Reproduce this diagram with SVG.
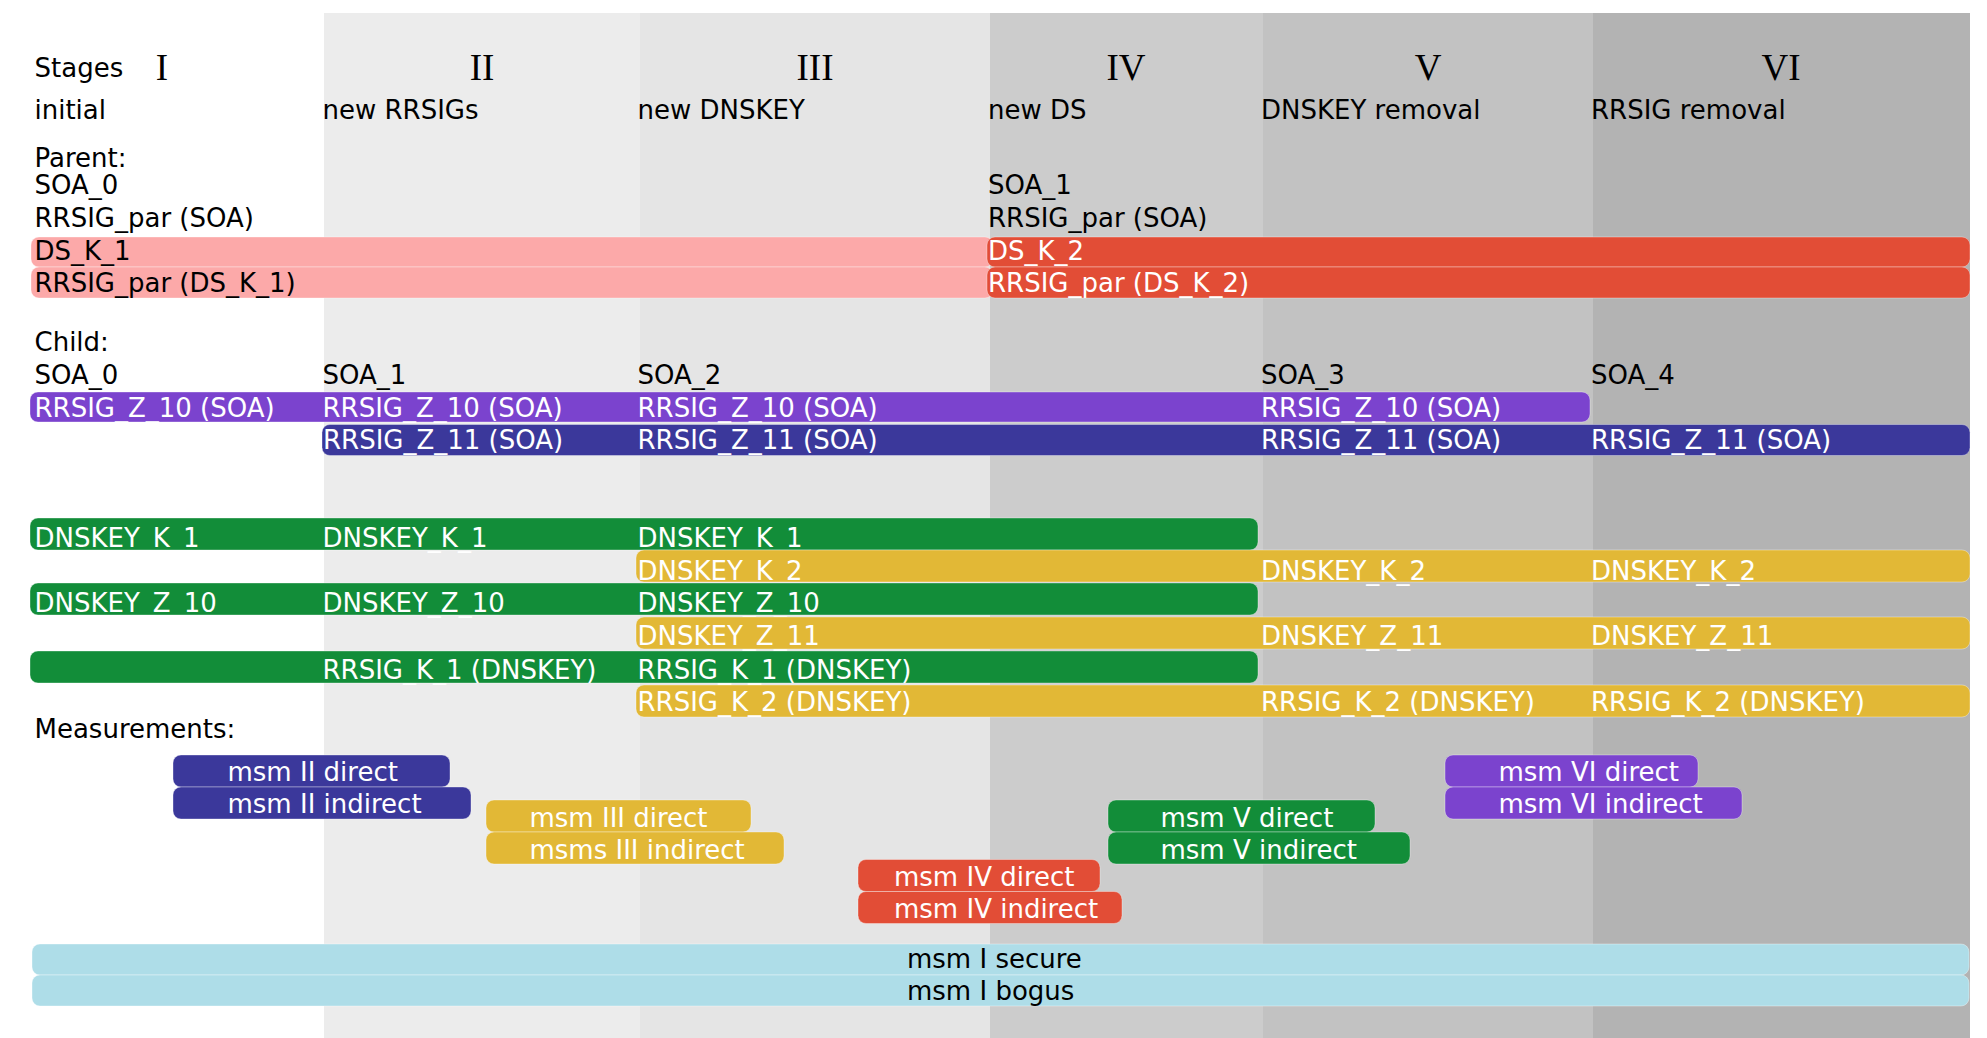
<svg xmlns="http://www.w3.org/2000/svg" width="1987" height="1038" viewBox="0 0 1987 1038">
<style>
  text { font-family: "DejaVu Sans", "Liberation Sans", sans-serif; font-size: 26px; fill: #000; }
  .num { font-family: "Liberation Serif", "DejaVu Serif", serif; font-size: 37px; text-anchor: middle; }
  .w { fill: #ffffff; }
  .bar { stroke: rgba(255,255,255,0.35); stroke-width: 1; }
  .pink { fill: #fca9a9; }
  .red { fill: #e24d36; }
  .purple { fill: #7b43ce; }
  .blue { fill: #3b389b; }
  .green { fill: #128d39; }
  .gold { fill: #e2b836; }
  .lblue { fill: #aedde8; }
</style>
<rect x="0" y="0" width="1987" height="1038" fill="#ffffff"/>
<g id="stage-columns">
  <rect x="324" y="13" width="316" height="1025" fill="#ececec"/>
  <rect x="640" y="13" width="350" height="1025" fill="#e5e5e5"/>
  <rect x="990" y="13" width="273" height="1025" fill="#cccccc"/>
  <rect x="1263" y="13" width="330" height="1025" fill="#c2c2c2"/>
  <rect x="1593" y="13" width="377" height="1025" fill="#b3b3b3"/>
</g>
<g id="headers">
  <text x="34.5" y="77">Stages</text>
  <text class="num" x="162" y="80">I</text>
  <text class="num" x="482" y="80">II</text>
  <text class="num" x="815" y="80">III</text>
  <text class="num" x="1126" y="80">IV</text>
  <text class="num" x="1428" y="80">V</text>
  <text class="num" x="1781" y="80">VI</text>
  <text x="34.5" y="119">initial</text>
  <text x="322.5" y="119">new RRSIGs</text>
  <text x="637.5" y="119">new DNSKEY</text>
  <text x="988" y="119">new DS</text>
  <text x="1261" y="119">DNSKEY removal</text>
  <text x="1591" y="119">RRSIG removal</text>
</g>
<g id="parent">
  <text x="34.5" y="166.5">Parent:</text>
  <text x="34.5" y="193.5">SOA_0</text>
  <text x="34.5" y="226.5">RRSIG_par (SOA)</text>
  <text x="988" y="193.5">SOA_1</text>
  <text x="988" y="226.5">RRSIG_par (SOA)</text>
</g>
<g id="ds-k-1">
  <rect class="bar pink" x="31" y="237" width="962" height="30" rx="8"/>
  <text x="34.5" y="259.5">DS_K_1</text>
</g>
<g id="rrsig-par-ds-k-1">
  <rect class="bar pink" x="31" y="267" width="962" height="31" rx="8"/>
  <text x="34.5" y="292">RRSIG_par (DS_K_1)</text>
</g>
<g id="ds-k-2">
  <rect class="bar red" x="987" y="237" width="983" height="30" rx="8"/>
  <text class="w" x="988" y="259.5">DS_K_2</text>
</g>
<g id="rrsig-par-ds-k-2">
  <rect class="bar red" x="987" y="267" width="983" height="31" rx="8"/>
  <text class="w" x="988" y="292">RRSIG_par (DS_K_2)</text>
</g>
<g id="child">
  <text x="34.5" y="351">Child:</text>
  <text x="34.5" y="383.5">SOA_0</text>
  <text x="322.5" y="383.5">SOA_1</text>
  <text x="637.5" y="383.5">SOA_2</text>
  <text x="1261" y="383.5">SOA_3</text>
  <text x="1591" y="383.5">SOA_4</text>
</g>
<g id="rrsig-z-10-soa">
  <rect class="bar purple" x="30" y="392" width="1560" height="30" rx="8"/>
  <text class="w" x="34.5" y="416.5">RRSIG_Z_10 (SOA)</text>
  <text class="w" x="322.5" y="416.5">RRSIG_Z_10 (SOA)</text>
  <text class="w" x="637.5" y="416.5">RRSIG_Z_10 (SOA)</text>
  <text class="w" x="1261" y="416.5">RRSIG_Z_10 (SOA)</text>
</g>
<g id="rrsig-z-11-soa">
  <rect class="bar blue" x="322" y="424.5" width="1648" height="31" rx="8"/>
  <text class="w" x="323" y="449">RRSIG_Z_11 (SOA)</text>
  <text class="w" x="637.5" y="449">RRSIG_Z_11 (SOA)</text>
  <text class="w" x="1261" y="449">RRSIG_Z_11 (SOA)</text>
  <text class="w" x="1591" y="449">RRSIG_Z_11 (SOA)</text>
</g>
<g id="dnskey-k-1">
  <rect class="bar green" x="30" y="518" width="1228" height="32" rx="8"/>
  <text class="w" x="34.5" y="547">DNSKEY_K_1</text>
  <text class="w" x="322.5" y="547">DNSKEY_K_1</text>
  <text class="w" x="637.5" y="547">DNSKEY_K_1</text>
</g>
<g id="dnskey-k-2">
  <rect class="bar gold" x="636" y="550" width="1334" height="32" rx="8"/>
  <text class="w" x="637.5" y="579.5">DNSKEY_K_2</text>
  <text class="w" x="1261" y="579.5">DNSKEY_K_2</text>
  <text class="w" x="1591" y="579.5">DNSKEY_K_2</text>
</g>
<g id="dnskey-z-10">
  <rect class="bar green" x="30" y="583" width="1228" height="32" rx="8"/>
  <text class="w" x="34.5" y="611.5">DNSKEY_Z_10</text>
  <text class="w" x="322.5" y="611.5">DNSKEY_Z_10</text>
  <text class="w" x="637.5" y="611.5">DNSKEY_Z_10</text>
</g>
<g id="dnskey-z-11">
  <rect class="bar gold" x="636" y="617" width="1334" height="32" rx="8"/>
  <text class="w" x="637.5" y="645">DNSKEY_Z_11</text>
  <text class="w" x="1261" y="645">DNSKEY_Z_11</text>
  <text class="w" x="1591" y="645">DNSKEY_Z_11</text>
</g>
<g id="rrsig-k-1-dnskey">
  <rect class="bar green" x="30" y="651" width="1228" height="32" rx="8"/>
  <text class="w" x="322.5" y="678.5">RRSIG_K_1 (DNSKEY)</text>
  <text class="w" x="637.5" y="678.5">RRSIG_K_1 (DNSKEY)</text>
</g>
<g id="rrsig-k-2-dnskey">
  <rect class="bar gold" x="636" y="685" width="1334" height="32" rx="8"/>
  <text class="w" x="637.5" y="711">RRSIG_K_2 (DNSKEY)</text>
  <text class="w" x="1261" y="711">RRSIG_K_2 (DNSKEY)</text>
  <text class="w" x="1591" y="711">RRSIG_K_2 (DNSKEY)</text>
</g>
<text x="34.5" y="738">Measurements:</text>
<g id="msm-ii-direct">
  <rect class="bar blue" x="173" y="755" width="277" height="32" rx="8"/>
  <text class="w" x="227.5" y="780.7">msm II direct</text>
</g>
<g id="msm-ii-indirect">
  <rect class="bar blue" x="173" y="787" width="298" height="32" rx="8"/>
  <text class="w" x="227.5" y="812.7">msm II indirect</text>
</g>
<g id="msm-iii-direct">
  <rect class="bar gold" x="486" y="800" width="265" height="32" rx="8"/>
  <text class="w" x="529.5" y="826.5">msm III direct</text>
</g>
<g id="msms-iii-indirect">
  <rect class="bar gold" x="486" y="832" width="298" height="32" rx="8"/>
  <text class="w" x="529.5" y="859">msms III indirect</text>
</g>
<g id="msm-iv-direct">
  <rect class="bar red" x="858" y="859.5" width="242" height="32" rx="8"/>
  <text class="w" x="894" y="885.7">msm IV direct</text>
</g>
<g id="msm-iv-indirect">
  <rect class="bar red" x="858" y="891.5" width="264" height="32" rx="8"/>
  <text class="w" x="894" y="918.3">msm IV indirect</text>
</g>
<g id="msm-v-direct">
  <rect class="bar green" x="1108" y="800" width="267" height="32" rx="8"/>
  <text class="w" x="1160.5" y="826.5">msm V direct</text>
</g>
<g id="msm-v-indirect">
  <rect class="bar green" x="1108" y="832" width="302" height="32" rx="8"/>
  <text class="w" x="1160.5" y="859">msm V indirect</text>
</g>
<g id="msm-vi-direct">
  <rect class="bar purple" x="1445" y="755" width="253" height="32" rx="8"/>
  <text class="w" x="1498.5" y="780.7">msm VI direct</text>
</g>
<g id="msm-vi-indirect">
  <rect class="bar purple" x="1445" y="787" width="297" height="32" rx="8"/>
  <text class="w" x="1498.5" y="812.7">msm VI indirect</text>
</g>
<g id="msm-i-secure">
  <rect class="bar lblue" x="32" y="944" width="1937" height="31" rx="8"/>
  <text x="907" y="968.3">msm I secure</text>
</g>
<g id="msm-i-bogus">
  <rect class="bar lblue" x="32" y="975" width="1937" height="31" rx="8"/>
  <text x="907" y="1000">msm I bogus</text>
</g>
<g id="connectors"/>
</svg>
